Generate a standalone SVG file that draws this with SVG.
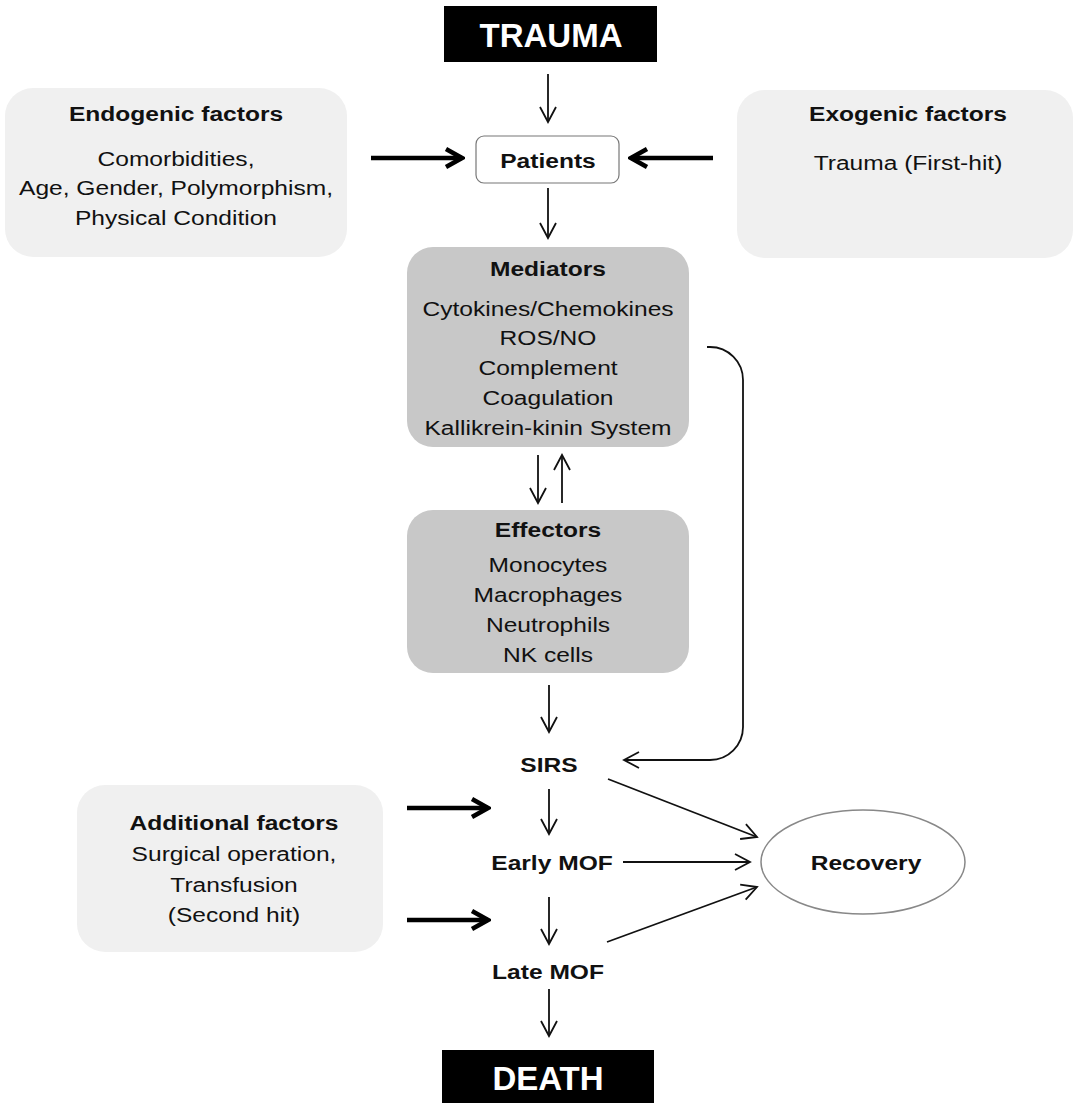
<svg xmlns="http://www.w3.org/2000/svg" width="1073" height="1103" viewBox="0 0 1073 1103">
<style>
text{font-family:"Liberation Sans",Arial,Helvetica,sans-serif;fill:#111;text-anchor:middle;font-size:21px}
.b{font-weight:bold}
.big{font-weight:bold;font-size:33px;fill:#fff}
.light{fill:#f0f0f0;stroke:none}
.dark{fill:#c8c8c8;stroke:none}
.c{fill:none;stroke:#111;stroke-width:1.8}
.t{fill:none;stroke:#000;stroke-width:4.5}
</style>
<defs>
<marker id="a" markerUnits="userSpaceOnUse" viewBox="0 0 18 20" refX="16" refY="10" markerWidth="18" markerHeight="20" orient="auto">
<path d="M1,2 L16,10 L1,18" fill="none" stroke="#111" stroke-width="1.8"/>
</marker>
<marker id="ta" markerUnits="userSpaceOnUse" viewBox="0 0 22 24" refX="19" refY="12" markerWidth="22" markerHeight="24" orient="auto">
<path d="M3,3 L19,12 L3,21" fill="none" stroke="#000" stroke-width="4.5" stroke-linejoin="miter"/>
</marker>
</defs>
<rect width="1073" height="1103" fill="#fff"/>

<g id="trauma">
<rect x="444" y="6" width="213" height="56" fill="#000"/>
<text class="big" x="551" y="47">TRAUMA</text>
</g>

<g id="endogenic">
<rect class="light" x="5" y="88" width="342" height="169" rx="28"/>
<g transform="translate(176 0) scale(1.17 1)">
<text class="b" x="0" y="121">Endogenic factors</text>
<text x="0" y="166">Comorbidities,</text>
<text x="0" y="195">Age, Gender, Polymorphism,</text>
<text x="0" y="225">Physical Condition</text>
</g>
</g>

<g id="exogenic">
<rect class="light" x="737" y="90" width="336" height="168" rx="28"/>
<g transform="translate(908 0) scale(1.17 1)">
<text class="b" x="0" y="121">Exogenic factors</text>
<text x="0" y="170">Trauma (First-hit)</text>
</g>
</g>

<g id="patients">
<rect x="476" y="136" width="143" height="47" rx="8" fill="#fff" stroke="#777" stroke-width="1.2"/>
<g transform="translate(548 0) scale(1.17 1)">
<text class="b" x="0" y="168">Patients</text>
</g>
</g>

<g id="mediators">
<rect class="dark" x="407" y="247" width="282" height="200" rx="26"/>
<g transform="translate(548 0) scale(1.17 1)">
<text class="b" x="0" y="276">Mediators</text>
<text x="0" y="316">Cytokines/Chemokines</text>
<text x="0" y="345">ROS/NO</text>
<text x="0" y="375">Complement</text>
<text x="0" y="405">Coagulation</text>
<text x="0" y="435">Kallikrein-kinin System</text>
</g>
</g>

<g id="effectors">
<rect class="dark" x="407" y="510" width="282" height="163" rx="26"/>
<g transform="translate(548 0) scale(1.17 1)">
<text class="b" x="0" y="537">Effectors</text>
<text x="0" y="572">Monocytes</text>
<text x="0" y="602">Macrophages</text>
<text x="0" y="632">Neutrophils</text>
<text x="0" y="662">NK cells</text>
</g>
</g>

<g id="sirs">
<g transform="translate(549 0) scale(1.17 1)"><text class="b" x="0" y="772">SIRS</text></g>
</g>

<g id="earlymof">
<g transform="translate(552 0) scale(1.17 1)"><text class="b" x="0" y="870">Early MOF</text></g>
</g>

<g id="latemof">
<g transform="translate(548 0) scale(1.17 1)"><text class="b" x="0" y="979">Late MOF</text></g>
</g>

<g id="additional">
<rect class="light" x="77" y="785" width="306" height="167" rx="28"/>
<g transform="translate(234 0) scale(1.17 1)">
<text class="b" x="0" y="830">Additional factors</text>
<text x="0" y="861">Surgical operation,</text>
<text x="0" y="892">Transfusion</text>
<text x="0" y="922">(Second hit)</text>
</g>
</g>

<g id="recovery">
<ellipse cx="863" cy="862" rx="102" ry="52" fill="#fff" stroke="#888" stroke-width="1.5"/>
<g transform="translate(866 0) scale(1.17 1)"><text class="b" x="0" y="870">Recovery</text></g>
</g>

<g id="death">
<rect x="442" y="1050" width="212" height="53" fill="#000"/>
<text class="big" x="548" y="1090">DEATH</text>
</g>

<g id="connectors">
<line class="c" x1="548" y1="74" x2="548" y2="122" marker-end="url(#a)"/>
<line class="c" x1="548" y1="188" x2="548" y2="238" marker-end="url(#a)"/>
<line class="t" x1="371" y1="158" x2="462" y2="158" marker-end="url(#ta)"/>
<line class="t" x1="713" y1="158" x2="631" y2="158" marker-end="url(#ta)"/>
<line class="c" x1="538" y1="455" x2="538" y2="503" marker-end="url(#a)"/>
<line class="c" x1="562" y1="503" x2="562" y2="455" marker-end="url(#a)"/>
<path class="c" d="M707,347 L710,347 A33,33 0 0 1 743,380 L743,727 A33,33 0 0 1 710,760 L624,760" marker-end="url(#a)"/>
<line class="c" x1="549" y1="685" x2="549" y2="732" marker-end="url(#a)"/>
<line class="c" x1="549" y1="789" x2="549" y2="834" marker-end="url(#a)"/>
<line class="c" x1="549" y1="897" x2="549" y2="944" marker-end="url(#a)"/>
<line class="c" x1="549" y1="989" x2="549" y2="1036" marker-end="url(#a)"/>
<line class="t" x1="407" y1="808" x2="488" y2="808" marker-end="url(#ta)"/>
<line class="t" x1="407" y1="920" x2="488" y2="920" marker-end="url(#ta)"/>
<line class="c" x1="608" y1="779" x2="757" y2="837" marker-end="url(#a)"/>
<line class="c" x1="623" y1="862" x2="750" y2="862" marker-end="url(#a)"/>
<line class="c" x1="607" y1="942" x2="757" y2="887" marker-end="url(#a)"/>
</g>
</svg>
